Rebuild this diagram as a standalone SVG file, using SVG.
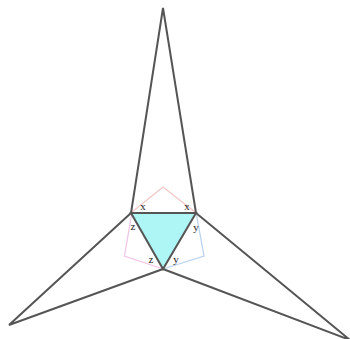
<svg xmlns="http://www.w3.org/2000/svg" width="350" height="339" viewBox="0 0 350 339">
<style>
.e{stroke:#555;stroke-width:2;fill:none;stroke-linejoin:miter}
.t{font-family:"Liberation Serif","DejaVu Serif",serif;font-size:11px;fill:#222;text-anchor:middle}
</style>
<rect width="350" height="339" fill="#fff"/>
<g id="aux">
<polyline points="132,212 163,187 195,212" fill="none" stroke="#f4c6c6" stroke-width="1.3"/>
<polyline points="131.5,215 124.5,256 163,269" fill="none" stroke="#f0c6e6" stroke-width="1.3"/>
<polyline points="196.5,215 204,256 163,269" fill="none" stroke="#b9d3ee" stroke-width="1.3"/>
</g>
<g id="triangle">
<polygon points="131,213 196,213 163,269" fill="#aef5f5" stroke="#555" stroke-width="2"/>
</g>
<g id="connectors">
<polyline class="e" points="131,213 163,8 196,213"/>
<polyline class="e" points="131,213 9,325 163,269"/>
<polyline class="e" points="196,213 350,340 163,269"/>
</g>
<g id="labels">
<text class="t" x="143" y="210">x</text>
<text class="t" x="187" y="210">x</text>
<text class="t" x="133" y="230">z</text>
<text class="t" x="196" y="231">y</text>
<text class="t" x="151" y="263">z</text>
<text class="t" x="176" y="263">y</text>
</g>
</svg>
